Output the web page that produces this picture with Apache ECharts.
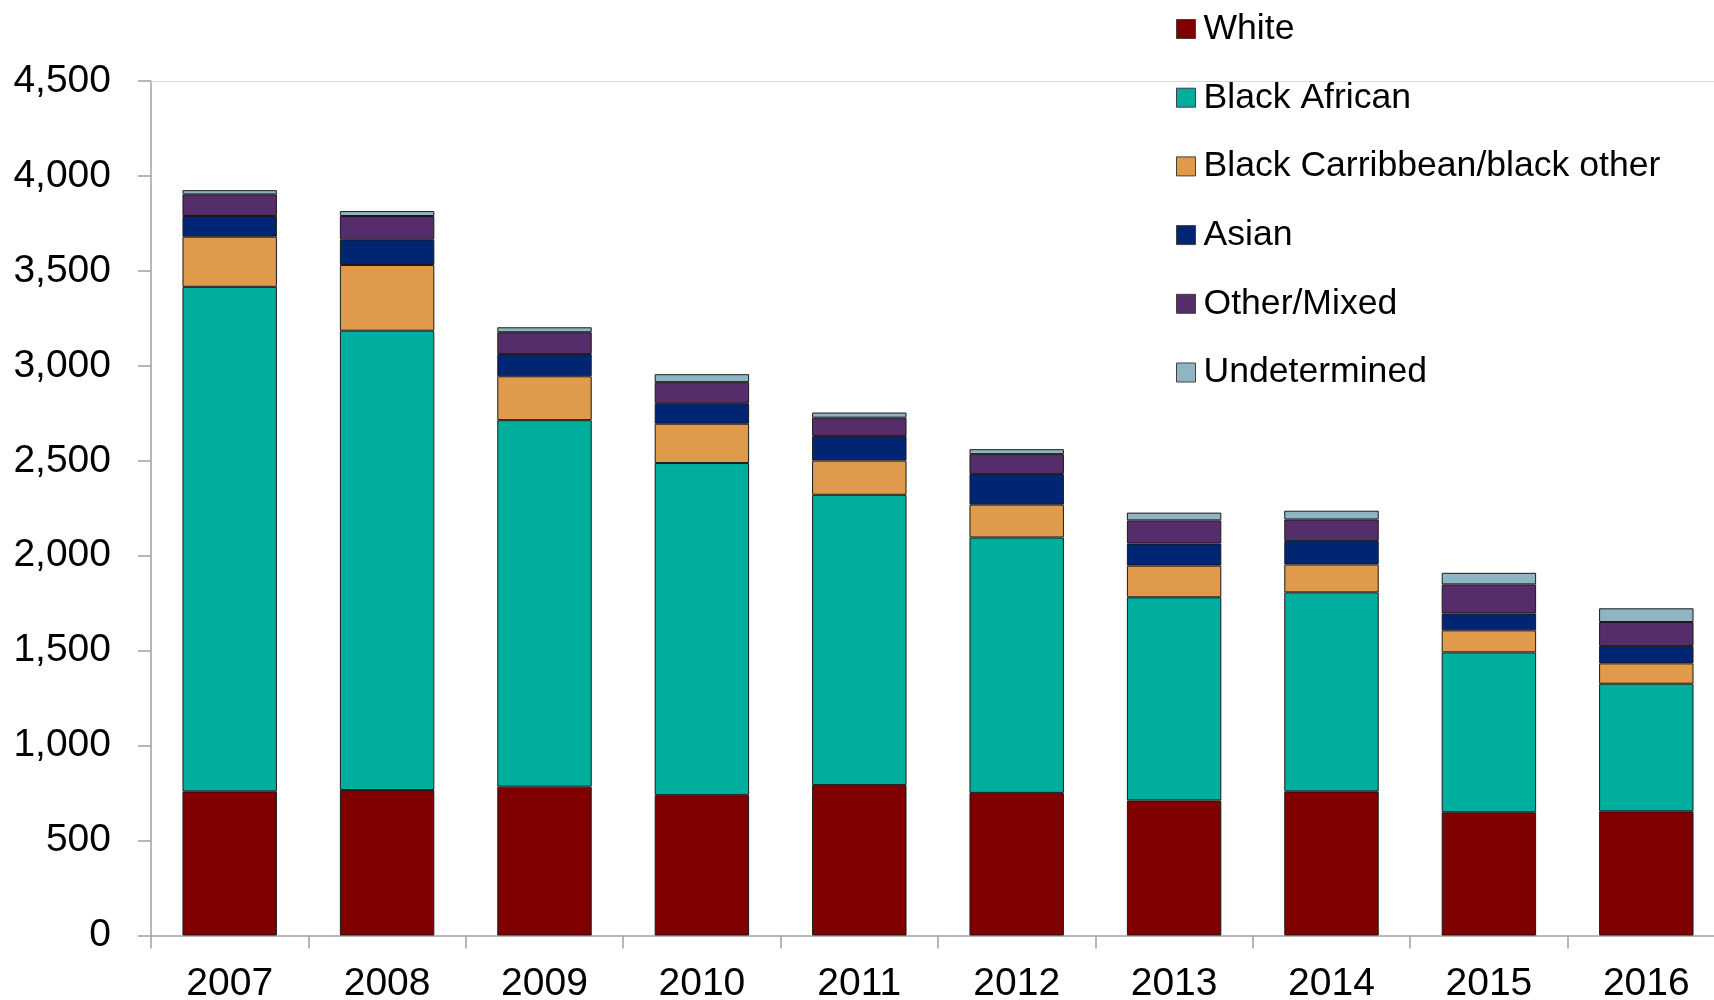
<!DOCTYPE html>
<html>
<head>
<meta charset="utf-8">
<script src="https://cdn.jsdelivr.net/npm/echarts@6/dist/echarts.min.js"></script>
<style>
  html, body { margin: 0; padding: 0; background: #ffffff; }
  #chart { width: 1714px; height: 1000px; }
</style>
</head>
<body>
<div id="chart"></div>
<script>
const years = ['2007','2008','2009','2010','2011','2012','2013','2014','2015','2016'];
const white        = [759, 766, 784, 739, 792, 751, 711, 759, 649, 654];
const blackAfrican = [2657, 2419, 1930, 1749, 1529, 1345, 1070, 1048, 842, 672];
const blackCarib   = [264, 346, 231, 207, 180, 173, 167, 147, 116, 107];
const asian        = [109, 135, 117, 108, 129, 161, 116, 123, 89, 91];
const otherMixed   = [114, 123, 115, 111, 97, 105, 122, 114, 153, 127];
const undetermined = [22, 26, 26, 42, 27, 26, 41, 46, 61, 72];
const yTicks = { min: 0, max: 4500, interval: 500 };

const seriesDefs = [
  { name: 'White', data: white, color: '#800000' },
  { name: 'Black African', data: blackAfrican, color: '#00ae9d' },
  { name: 'Black Carribbean/black other', data: blackCarib, color: '#df9a4c' },
  { name: 'Asian', data: asian, color: '#002673' },
  { name: 'Other/Mixed', data: otherMixed, color: '#552d6b' },
  { name: 'Undetermined', data: undetermined, color: '#8fb5c4' }
];

const FONT = "'Liberation Sans', Arial, sans-serif";
const chart = echarts.init(document.getElementById('chart'), null, { renderer: 'canvas' });

chart.setOption({
  animation: false,
  backgroundColor: '#ffffff',
  textStyle: { fontFamily: FONT },
  grid: { left: 151, right: -11, top: 81, bottom: 64.5, containLabel: false, outerBoundsMode: 'none' },
  legend: {
    orient: 'vertical',
    left: 1176,
    top: 9,
    padding: 0,
    itemWidth: 19,
    itemHeight: 19,
    itemGap: 28.7,
    icon: 'rect',
    textStyle: { fontFamily: FONT, fontSize: 35.6, color: '#000', lineHeight: 40, padding: [0, 0, 0, 3] },
    data: seriesDefs.map(s => ({ name: s.name, itemStyle: { borderColor: '#404040', borderWidth: 1 } }))
  },
  xAxis: [
    {
      type: 'category',
      data: years,
      axisLine: { lineStyle: { color: '#a0a0a0', width: 1.5 } },
      axisTick: { show: true, length: 13, lineStyle: { color: '#a0a0a0', width: 1.5 } },
      axisLabel: { fontFamily: FONT, fontSize: 39, color: '#000', margin: 29 },
      splitLine: { show: false }
    },
    {
      type: 'category',
      data: years,
      position: 'top',
      axisLine: { show: true, lineStyle: { color: '#d9d9d9', width: 1 } },
      axisTick: { show: false },
      axisLabel: { show: false },
      splitLine: { show: false }
    }
  ],
  yAxis: {
    type: 'value',
    min: yTicks.min,
    max: yTicks.max,
    interval: yTicks.interval,
    axisLine: { show: true, lineStyle: { color: '#a0a0a0', width: 1.5 } },
    axisTick: { show: true, length: 13, lineStyle: { color: '#a0a0a0', width: 1.5 } },
    axisLabel: {
      fontFamily: FONT, fontSize: 39, color: '#000', margin: 40,
      formatter: v => v.toLocaleString('en-US')
    },
    splitLine: { show: false }
  },
  series: seriesDefs.map(s => ({
    name: s.name,
    type: 'bar',
    stack: 'total',
    barWidth: '60%',
    data: s.data,
    itemStyle: { color: s.color, borderColor: '#1a1a1a', borderWidth: 1 },
    emphasis: { disabled: true }
  }))
});
</script>
</body>
</html>
